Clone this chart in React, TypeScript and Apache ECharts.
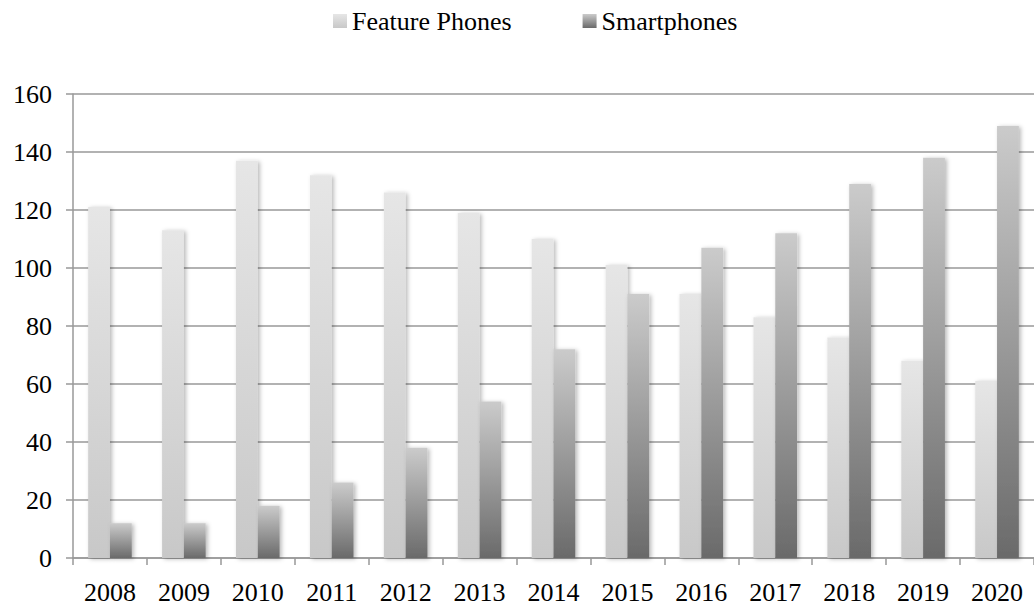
import React, { useEffect, useRef } from "react";
import * as echarts from "echarts";

const categories = ["2008", "2009", "2010", "2011", "2012", "2013", "2014", "2015", "2016", "2017", "2018", "2019", "2020"];
const featurePhones = [121, 113, 137, 132, 126, 119, 110, 101, 91, 83, 76, 68, 61];
const smartphones = [12, 12, 18, 26, 38, 54, 72, 91, 107, 112, 129, 138, 149];
const yTicks = { min: 0, max: 160, interval: 20 };

const FONT = "Liberation Serif";

export default function App() {
  const ref = useRef<HTMLDivElement>(null);
  useEffect(() => {
    if (!ref.current) return;
    const chart = echarts.init(ref.current, undefined, { renderer: "svg" });
    const featGrad = new echarts.graphic.LinearGradient(0, 0, 0, 1, [
      { offset: 0, color: "#e6e6e6" },
      { offset: 1, color: "#c8c8c8" },
    ]);
    const smartGrad = new echarts.graphic.LinearGradient(0, 0, 0, 1, [
      { offset: 0, color: "#cbcbcb" },
      { offset: 1, color: "#6a6a6a" },
    ]);
    chart.setOption({
      animation: false,
      textStyle: { fontFamily: FONT },
      legend: {
        top: 3,
        left: 328,
        icon: "rect",
        itemWidth: 14,
        itemHeight: 14,
        itemGap: 71,
        textStyle: { fontFamily: FONT, fontSize: 26, color: "#000" },
        data: [
          { name: "Feature Phones", itemStyle: { color: featGrad } },
          { name: "Smartphones", itemStyle: { color: smartGrad } },
        ],
      },
      grid: { left: 73, top: 94, bottom: 49, right: -5, containLabel: false },
      xAxis: {
        type: "category",
        data: categories,
        axisLine: { lineStyle: { color: "#999", width: 1.5 } },
        axisTick: { show: true, length: 7, alignWithLabel: false, lineStyle: { color: "#999", width: 1.5 } },
        axisLabel: { fontFamily: FONT, fontSize: 26, color: "#000", margin: 21, interval: 0 },
      },
      yAxis: {
        type: "value",
        min: yTicks.min,
        max: yTicks.max,
        interval: yTicks.interval,
        axisLine: { show: true, lineStyle: { color: "#999", width: 1.5 } },
        axisTick: { show: true, length: 7, lineStyle: { color: "#999", width: 1.5 } },
        splitLine: { show: true, lineStyle: { color: "#999", width: 1.5 } },
        axisLabel: { fontFamily: FONT, fontSize: 26, color: "#000", margin: 21 },
      },
      series: [
        {
          name: "Feature Phones",
          type: "bar",
          data: featurePhones,
          barGap: "0%",
          barCategoryGap: "41%",
          itemStyle: {
            color: featGrad,
            shadowBlur: 4,
            shadowColor: "rgba(0,0,0,0.28)",
            shadowOffsetX: 2,
            shadowOffsetY: 1,
          },
        },
        {
          name: "Smartphones",
          type: "bar",
          data: smartphones,
          barGap: "0%",
          barCategoryGap: "41%",
          itemStyle: {
            color: smartGrad,
            shadowBlur: 4,
            shadowColor: "rgba(0,0,0,0.28)",
            shadowOffsetX: 2,
            shadowOffsetY: 1,
          },
        },
      ],
    });
    return () => chart.dispose();
  }, []);
  return (
    <div
      ref={ref}
      style={{ position: "absolute", left: 0, top: 0, width: 1034, height: 607, background: "#fff" }}
    />
  );
}
